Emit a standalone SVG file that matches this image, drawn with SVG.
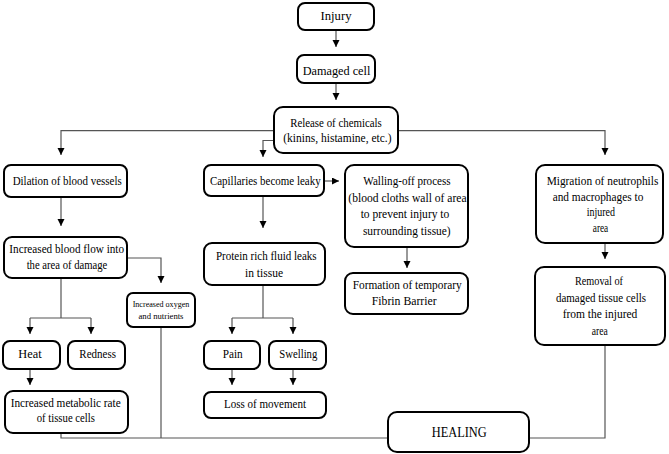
<svg xmlns="http://www.w3.org/2000/svg" width="669" height="454" viewBox="0 0 669 454">
<style>
.box{fill:#fff;stroke:#000;stroke-width:2;}
.t{font-family:"Liberation Serif","Times New Roman",serif;font-size:12.5px;fill:#000;text-anchor:middle;}
.s{font-size:9px;}
.h{font-size:15px;}
.c{fill:none;stroke:#555;stroke-width:1.2;}
</style>
<defs>
<marker id="ah" markerUnits="userSpaceOnUse" markerWidth="8" markerHeight="8" refX="7" refY="3.5" orient="auto">
<path d="M0,0 L7,3.5 L0,7 Z" fill="#000"/>
</marker>
</defs>
<rect width="669" height="454" fill="#fff"/>
<g id="connectors">
<path class="c" d="M336,30 V47" marker-end="url(#ah)"/>
<path class="c" d="M336,83 V100" marker-end="url(#ah)"/>
<path class="c" d="M274,130.7 H61 V155" marker-end="url(#ah)"/>
<path class="c" d="M398,130.7 H605 V155" marker-end="url(#ah)"/>
<path class="c" d="M274,140.5 H263 V157" marker-end="url(#ah)"/>
<path class="c" d="M61,197 V226" marker-end="url(#ah)"/>
<path class="c" d="M263,196 V228" marker-end="url(#ah)"/>
<path class="c" d="M325,181 H339" marker-end="url(#ah)"/>
<path class="c" d="M127,258 H161 V283" marker-end="url(#ah)"/>
<path class="c" d="M407,247 V268" marker-end="url(#ah)"/>
<path class="c" d="M605,243 V259" marker-end="url(#ah)"/>
<path class="c" d="M61,278 V318"/>
<path class="c" d="M30,318 H91"/>
<path class="c" d="M30,318 V334" marker-end="url(#ah)"/>
<path class="c" d="M91,318 V334" marker-end="url(#ah)"/>
<path class="c" d="M30,369 V385" marker-end="url(#ah)"/>
<path class="c" d="M263,285 V318"/>
<path class="c" d="M232,318 H293"/>
<path class="c" d="M232,318 V334" marker-end="url(#ah)"/>
<path class="c" d="M293,318 V334" marker-end="url(#ah)"/>
<path class="c" d="M232,369 V385" marker-end="url(#ah)"/>
<path class="c" d="M293,369 V385" marker-end="url(#ah)"/>
<path class="c" d="M61,433 V438 H388"/>
<path class="c" d="M161,327 V438"/>
<path class="c" d="M605,345 V438 H529"/>
</g>
<g id="injury"><rect class="box" x="298" y="3" width="76" height="27" rx="7"/><text class="t" x="336" y="20" textLength="31" lengthAdjust="spacingAndGlyphs">Injury</text></g>
<g id="damaged"><rect class="box" x="297" y="55" width="78" height="28" rx="7"/><text class="t" x="336.5" y="75" textLength="67.7" lengthAdjust="spacingAndGlyphs">Damaged cell</text></g>
<g id="release"><rect class="box" x="274" y="107" width="124" height="46" rx="9"/>
<text class="t" x="336" y="126.7" textLength="91.7" lengthAdjust="spacingAndGlyphs">Release of chemicals</text>
<text class="t" x="337.4" y="141.7" textLength="108.3" lengthAdjust="spacingAndGlyphs">(kinins, histamine, etc.)</text></g>
<g id="dilation"><rect class="box" x="4" y="165" width="123" height="32" rx="7"/><text class="t" x="67.2" y="185" textLength="109" lengthAdjust="spacingAndGlyphs">Dilation of blood vessels</text></g>
<g id="capillaries"><rect class="box" x="204" y="165" width="120" height="31" rx="7"/><text class="t" x="265.3" y="185" textLength="110.7" lengthAdjust="spacingAndGlyphs">Capillaries become leaky</text></g>
<g id="walling"><rect class="box" x="345" y="165" width="123" height="82" rx="9"/>
<text class="t" x="407" y="185" textLength="87.3" lengthAdjust="spacingAndGlyphs">Walling-off process</text>
<text class="t" x="407.5" y="201.5" textLength="118.3" lengthAdjust="spacingAndGlyphs">(blood cloths wall of area</text>
<text class="t" x="405" y="218" textLength="88.7" lengthAdjust="spacingAndGlyphs">to prevent injury to</text>
<text class="t" x="406.8" y="234.5" textLength="87.7" lengthAdjust="spacingAndGlyphs">surrounding tissue)</text></g>
<g id="migration"><rect class="box" x="536" y="165" width="127" height="78" rx="9"/>
<text class="t" x="602.5" y="185" textLength="111.7" lengthAdjust="spacingAndGlyphs">Migration of neutrophils</text>
<text class="t" x="598" y="200.5" textLength="90.7" lengthAdjust="spacingAndGlyphs">and macrophages to</text>
<text class="t" x="600.8" y="216" textLength="28.3" lengthAdjust="spacingAndGlyphs">injured</text>
<text class="t" x="600.5" y="231.5" textLength="15.5" lengthAdjust="spacingAndGlyphs">area</text></g>
<g id="bloodflow"><rect class="box" x="4" y="237" width="123" height="41" rx="8"/>
<text class="t" x="66.7" y="252.5" textLength="114.7" lengthAdjust="spacingAndGlyphs">Increased blood flow into</text>
<text class="t" x="67" y="269" textLength="80.7" lengthAdjust="spacingAndGlyphs">the area of damage</text></g>
<g id="protein"><rect class="box" x="204" y="243" width="121" height="42" rx="8"/>
<text class="t" x="266.3" y="260" textLength="100.7" lengthAdjust="spacingAndGlyphs">Protein rich fluid leaks</text>
<text class="t" x="264" y="276.5" textLength="38" lengthAdjust="spacingAndGlyphs">in tissue</text></g>
<g id="oxygen"><rect class="box" x="127" y="293" width="68" height="34" rx="6"/>
<text class="t s" x="161" y="307" textLength="56.7" lengthAdjust="spacingAndGlyphs">Increased oxygen</text>
<text class="t s" x="161" y="318.5" textLength="45" lengthAdjust="spacingAndGlyphs">and nutrients</text></g>
<g id="formation"><rect class="box" x="345" y="273" width="123" height="41" rx="8"/>
<text class="t" x="407.2" y="288.5" textLength="109" lengthAdjust="spacingAndGlyphs">Formation of temporary</text>
<text class="t" x="404.2" y="305" textLength="65" lengthAdjust="spacingAndGlyphs">Fibrin Barrier</text></g>
<g id="removal"><rect class="box" x="535" y="267" width="130" height="78" rx="9"/>
<text class="t" x="599" y="285" textLength="48" lengthAdjust="spacingAndGlyphs">Removal of</text>
<text class="t" x="601" y="301.5" textLength="90" lengthAdjust="spacingAndGlyphs">damaged tissue cells</text>
<text class="t" x="600" y="318" textLength="74.7" lengthAdjust="spacingAndGlyphs">from the injured</text>
<text class="t" x="599.7" y="334.5" textLength="16" lengthAdjust="spacingAndGlyphs">area</text></g>
<g id="heat"><rect class="box" x="3" y="341" width="57" height="28" rx="7"/><text class="t" x="30" y="358.3" textLength="23.3" lengthAdjust="spacingAndGlyphs">Heat</text></g>
<g id="redness"><rect class="box" x="68" y="341" width="57" height="28" rx="7"/><text class="t" x="97.7" y="358.3" textLength="36.7" lengthAdjust="spacingAndGlyphs">Redness</text></g>
<g id="pain"><rect class="box" x="204" y="341" width="56" height="28" rx="7"/><text class="t" x="232.7" y="358.3" textLength="20" lengthAdjust="spacingAndGlyphs">Pain</text></g>
<g id="swelling"><rect class="box" x="269" y="341" width="57" height="28" rx="7"/><text class="t" x="298.3" y="358.3" textLength="38" lengthAdjust="spacingAndGlyphs">Swelling</text></g>
<g id="metabolic"><rect class="box" x="5" y="391" width="123" height="42" rx="8"/>
<text class="t" x="65.7" y="406.7" textLength="110" lengthAdjust="spacingAndGlyphs">Increased metabolic rate</text>
<text class="t" x="65.8" y="421.7" textLength="58.3" lengthAdjust="spacingAndGlyphs">of tissue cells</text></g>
<g id="loss"><rect class="box" x="204" y="392" width="122" height="26" rx="7"/><text class="t" x="265" y="408.3" textLength="82" lengthAdjust="spacingAndGlyphs">Loss of movement</text></g>
<g id="healing"><rect class="box" x="388" y="412" width="141" height="40" rx="9"/><text class="t h" x="459.2" y="436.7" textLength="55" lengthAdjust="spacingAndGlyphs">HEALING</text></g>
</svg>
